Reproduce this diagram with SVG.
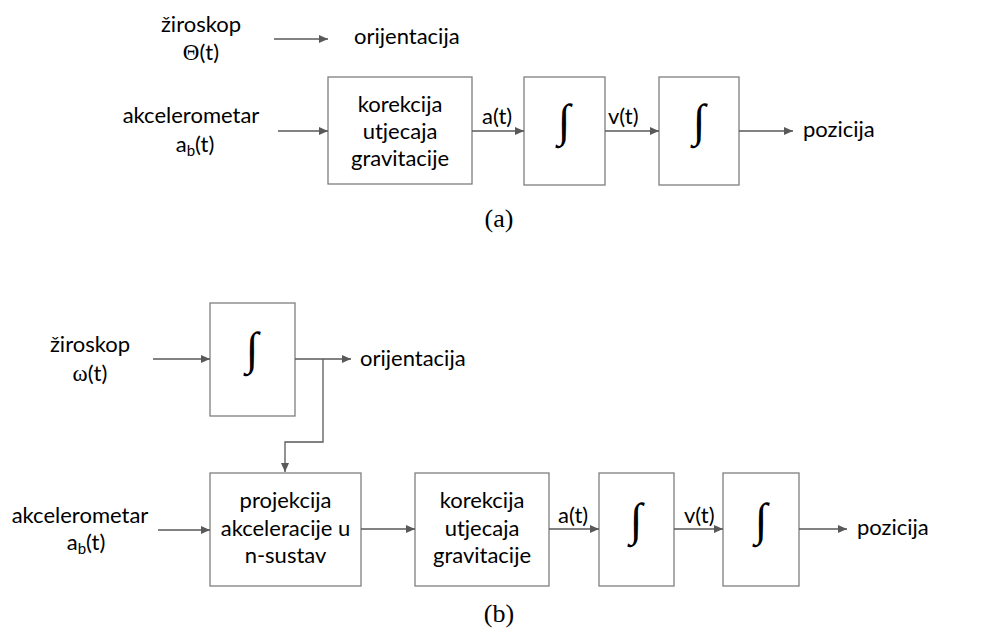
<svg xmlns="http://www.w3.org/2000/svg" width="991" height="632" viewBox="0 0 991 632">
<defs>
<style>
.t{font-family:Lato,"Open Sans",sans-serif;font-size:22px;fill:#000;}
.c{text-anchor:middle;}
.sym{font-family:"Liberation Serif",serif;font-size:23px;}
.cap{font-family:"Liberation Serif",serif;font-size:26px;fill:#000;text-anchor:middle;}
.box{fill:#fff;stroke:#7f7f7f;stroke-width:1.3;}
.ln{fill:none;stroke:#595959;stroke-width:1.3;}
.int{font-family:"Liberation Serif",serif;font-size:46px;font-weight:bold;fill:#000;text-anchor:middle;}
.sub{font-size:15px;}
</style>
<marker id="ah" markerWidth="9" markerHeight="8" refX="9" refY="4" orient="auto" markerUnits="userSpaceOnUse">
<path d="M0,0 L9,4 L0,8 Z" fill="#595959"/>
</marker>
</defs>
<rect width="991" height="632" fill="#fff"/>

<!-- (a) -->
<g id="a-ziroskop">
<text class="t c" x="201" y="32">žiroskop</text>
<text class="t c" x="201" y="60"><tspan class="sym">Θ</tspan>(t)</text>
</g>
<g id="a-orijentacija"><text class="t" x="354" y="44">orijentacija</text></g>
<g id="a-akcelerometar">
<text class="t c" x="191" y="123">akcelerometar</text>
<text class="t c" x="195" y="152">a<tspan class="sub" dy="4">b</tspan><tspan dy="-4">(t)</tspan></text>
</g>
<g id="a-korekcija">
<rect class="box" x="328" y="77" width="144" height="107"/>
<text class="t c" x="400" y="112">korekcija</text>
<text class="t c" x="400" y="139">utjecaja</text>
<text class="t c" x="400" y="166">gravitacije</text>
</g>
<g id="a-int1">
<rect class="box" x="524" y="77" width="81" height="108"/>
<text class="int" x="564" y="136">∫</text>
</g>
<g id="a-int2">
<rect class="box" x="659" y="77" width="80" height="108"/>
<text class="int" x="699" y="136">∫</text>
</g>
<g id="a-pozicija"><text class="t" x="803" y="137">pozicija</text></g>
<g id="a-labels">
<text class="t" x="482" y="124">a(t)</text>
<text class="t" x="608" y="124">v(t)</text>
</g>
<g id="a-caption"><text class="cap" x="499" y="227">(a)</text></g>

<g id="a-connectors">
<line class="ln" x1="274" y1="39" x2="328" y2="39" marker-end="url(#ah)"/>
<line class="ln" x1="278" y1="131" x2="328" y2="131" marker-end="url(#ah)"/>
<line class="ln" x1="472" y1="131" x2="524" y2="131" marker-end="url(#ah)"/>
<line class="ln" x1="605" y1="131" x2="659" y2="131" marker-end="url(#ah)"/>
<line class="ln" x1="739" y1="131" x2="793" y2="131" marker-end="url(#ah)"/>
</g>

<!-- (b) -->
<g id="b-ziroskop">
<text class="t c" x="90" y="352">žiroskop</text>
<text class="t c" x="90" y="381"><tspan class="sym">ω</tspan>(t)</text>
</g>
<g id="b-int0">
<rect class="box" x="210" y="303" width="85" height="113"/>
<text class="int" x="252" y="364">∫</text>
</g>
<g id="b-orijentacija"><text class="t" x="360" y="366">orijentacija</text></g>
<g id="b-akcelerometar">
<text class="t c" x="80" y="523">akcelerometar</text>
<text class="t c" x="86" y="550">a<tspan class="sub" dy="4">b</tspan><tspan dy="-4">(t)</tspan></text>
</g>
<g id="b-projekcija">
<rect class="box" x="210" y="473" width="151" height="113"/>
<text class="t c" x="285.5" y="508">projekcija</text>
<text class="t c" x="285.5" y="535.5">akceleracije u</text>
<text class="t c" x="285.5" y="563">n-sustav</text>
</g>
<g id="b-korekcija">
<rect class="box" x="415" y="473" width="134" height="113"/>
<text class="t c" x="482" y="508">korekcija</text>
<text class="t c" x="482" y="535.5">utjecaja</text>
<text class="t c" x="482" y="563">gravitacije</text>
</g>
<g id="b-int1">
<rect class="box" x="599" y="473" width="75" height="113"/>
<text class="int" x="636" y="535">∫</text>
</g>
<g id="b-int2">
<rect class="box" x="723" y="473" width="76" height="113"/>
<text class="int" x="761" y="535">∫</text>
</g>
<g id="b-pozicija"><text class="t" x="857" y="535">pozicija</text></g>
<g id="b-labels">
<text class="t" x="558" y="523">a(t)</text>
<text class="t" x="684" y="523">v(t)</text>
</g>
<g id="b-caption"><text class="cap" x="499" y="622">(b)</text></g>

<g id="b-connectors">
<line class="ln" x1="153" y1="359" x2="210" y2="359" marker-end="url(#ah)"/>
<line class="ln" x1="295" y1="359" x2="351" y2="359" marker-end="url(#ah)"/>
<polyline class="ln" points="323,359 323,442 285,442 285,472" marker-end="url(#ah)"/>
<line class="ln" x1="158" y1="530" x2="210" y2="530" marker-end="url(#ah)"/>
<line class="ln" x1="361" y1="529" x2="415" y2="529" marker-end="url(#ah)"/>
<line class="ln" x1="549" y1="529" x2="599" y2="529" marker-end="url(#ah)"/>
<line class="ln" x1="674" y1="529" x2="723" y2="529" marker-end="url(#ah)"/>
<line class="ln" x1="799" y1="529" x2="847" y2="529" marker-end="url(#ah)"/>
</g>
</svg>
